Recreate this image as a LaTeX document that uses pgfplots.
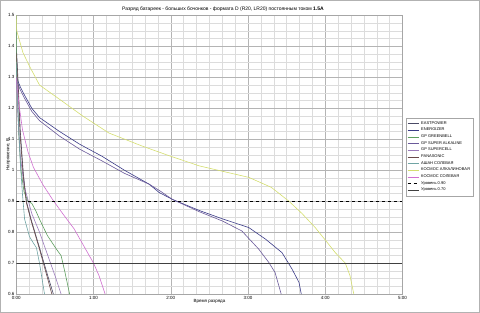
\documentclass[border=0pt]{standalone}
\usepackage{pgfplots}
\pgfplotsset{compat=1.18}
\usepackage{fontspec}
\setmainfont{Liberation Sans}
\definecolor{cEast}{HTML}{4A4A66}
\definecolor{cEner}{HTML}{3C3C88}
\definecolor{cGreen}{HTML}{5E9E5E}
\definecolor{cGPSA}{HTML}{6A5A9A}
\definecolor{cGPSC}{HTML}{9A7ABA}
\definecolor{cPana}{HTML}{6A4A4A}
\definecolor{cAshan}{HTML}{70A4A4}
\definecolor{cKosA}{HTML}{D4DE70}
\definecolor{cKosS}{HTML}{D070D0}
\definecolor{gmaj}{HTML}{B4B4B4}
\definecolor{gmin}{HTML}{DCDCDC}
\begin{document}
\begin{tikzpicture}
\draw[gray!60,line width=0.6bp] (1bp,1bp) rectangle (479bp,312bp);
\node[font=\fontsize{5}{6}\selectfont] at (223bp,303bp) {Разряд батареек - больших бочонков - формата D (R20, LR20) постоянным током \textbf{1.5A}};
\begin{axis}[
  at={(17bp,19bp)}, anchor=south west,
  scale only axis, width=385bp, height=278bp,
  xmin=0, xmax=5, ymin=0.6, ymax=1.5,
  xtick={0,1,2,3,4,5},
  xticklabels={0:00,1:00,2:00,3:00,4:00,5:00},
  ytick={0.6,0.7,0.8,0.9,1,1.1,1.2,1.3,1.4,1.5},
  minor x tick num=5, minor y tick num=3,
  grid=both,
  major grid style={gmaj,line width=0.4bp},
  minor grid style={gmin,line width=0.35bp},
  axis line style={gray!70,line width=0.5bp},
  tick style={draw=none},
  /pgf/number format/assume math mode=true,
  ticklabel style={font=\fontsize{4.5}{5}\selectfont},
  xticklabel style={yshift=1bp},
  yticklabel style={xshift=1.5bp},
  xlabel={Время разряда},
  ylabel={Напряжение, В},
  label style={font=\fontsize{4.5}{5}\selectfont},
  xlabel style={yshift=7bp},
  ylabel style={yshift=-9bp},
  legend cell align=left,
  legend style={at={(1.008,0.633)}, anchor=north west,
    font=\fontsize{4}{5}\selectfont, draw=gray!70, line width=0.4bp,
    row sep=-1.6bp, inner sep=1.5bp},
  legend image code/.code={\draw[#1] (0mm,0mm) -- (4mm,0mm);},
  every axis plot/.append style={line width=0.6bp, mark=none},
]
% EASTPOWER
\addplot[cEast] coordinates {(0,1.40) (0.02,1.30) (0.05,1.13) (0.09,0.99) (0.13,0.90) (0.19,0.842) (0.3,0.75) (0.4,0.665) (0.48,0.60)};
\addlegendentry{EASTPOWER}
% ENERGIZER
\addplot[cEner] coordinates {(0,1.30) (0.05,1.27) (0.1,1.245) (0.2,1.20) (0.3,1.17) (0.56,1.125) (0.82,1.084) (1.11,1.045) (1.4,1.0) (1.72,0.955) (1.85,0.928) (2.02,0.906) (2.37,0.870) (2.67,0.843) (3.01,0.815) (3.23,0.777) (3.44,0.734) (3.57,0.681) (3.66,0.638) (3.69,0.60)};
\addlegendentry{ENERGIZER}
% GP GREENBELL
\addplot[cGreen] coordinates {(0,1.50) (0.005,1.32) (0.03,1.12) (0.06,1.0) (0.1,0.93) (0.15,0.90) (0.2,0.893) (0.25,0.87) (0.3,0.842) (0.4,0.79) (0.52,0.745) (0.58,0.724) (0.63,0.67) (0.69,0.60)};
\addlegendentry{GP GREENBELL}
% GP SUPER ALKALINE
\addplot[cGPSA] coordinates {(0,1.29) (0.05,1.26) (0.1,1.235) (0.2,1.19) (0.3,1.16) (0.56,1.11) (0.82,1.068) (1.11,1.03) (1.4,0.99) (1.72,0.955) (1.85,0.935) (2.02,0.906) (2.37,0.866) (2.67,0.836) (2.92,0.804) (3.14,0.745) (3.27,0.702) (3.35,0.67) (3.43,0.60)};
\addlegendentry{GP SUPER ALKALINE}
% GP SUPERCELL
\addplot[cGPSC] coordinates {(0,1.30) (0.02,1.18) (0.05,1.05) (0.1,0.95) (0.2,0.86) (0.3,0.80) (0.4,0.73) (0.5,0.66) (0.58,0.60)};
\addlegendentry{GP SUPERCELL}
% PANASONIC
\addplot[cPana] coordinates {(0,1.38) (0.02,1.28) (0.05,1.11) (0.09,0.98) (0.13,0.895) (0.19,0.838) (0.3,0.745) (0.4,0.655) (0.46,0.60)};
\addlegendentry{PANASONIC}
% ASHAN
\addplot[cAshan] coordinates {(0,1.35) (0.02,1.20) (0.05,1.03) (0.08,0.92) (0.107,0.842) (0.17,0.786) (0.22,0.765) (0.26,0.75) (0.3,0.70) (0.365,0.60)};
\addlegendentry{АШАН СОЛЕВАЯ}
% KOSMOS ALKALINE
\addplot[cKosA] coordinates {(0,1.50) (0.005,1.45) (0.085,1.38) (0.17,1.336) (0.3,1.275) (0.56,1.229) (0.86,1.175) (1.2,1.12) (1.63,1.078) (2.0,1.045) (2.37,1.014) (3.01,0.977) (3.3,0.945) (3.53,0.90) (3.7,0.86) (3.87,0.815) (4.0,0.775) (4.13,0.734) (4.26,0.70) (4.32,0.66) (4.37,0.60)};
\addlegendentry{КОСМОС АЛКАЛИНОВАЯ}
% KOSMOS SALT
\addplot[cKosS] coordinates {(0,1.30) (0.03,1.22) (0.08,1.13) (0.15,1.06) (0.22,1.01) (0.34,0.955) (0.47,0.905) (0.6,0.86) (0.75,0.81) (0.92,0.735) (1.0,0.70) (1.07,0.66) (1.15,0.60)};
\addlegendentry{КОСМОС СОЛЕВАЯ}
\addplot[black, dashed, line width=0.6bp] coordinates {(0,0.9) (5,0.9)};
\addlegendentry{Уровень 0.90}
\addplot[black!75, line width=0.6bp] coordinates {(0,0.7) (5,0.7)};
\addlegendentry{Уровень 0.70}
\end{axis}
\end{tikzpicture}
\end{document}
